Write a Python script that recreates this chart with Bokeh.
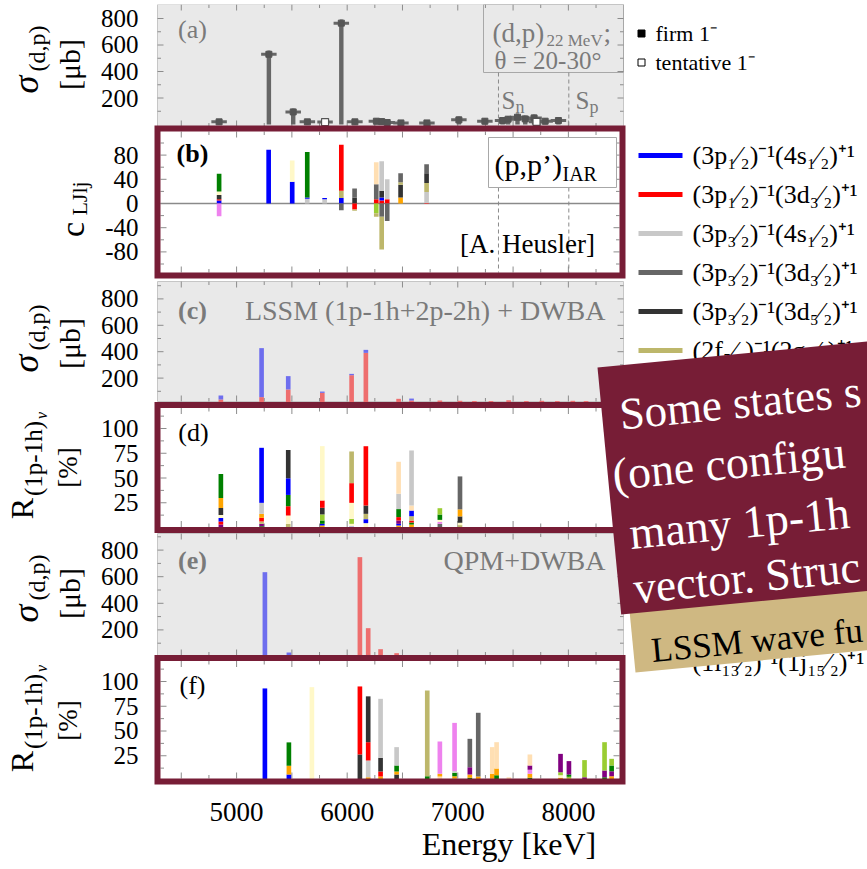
import math
from bokeh.plotting import figure
from bokeh.layouts import row
from bokeh.models import Range1d, FixedTicker, Label, ColumnDataSource
from bokeh.embed import file_html
from bokeh.resources import INLINE

FONT = "Liberation Serif"
MAROON = "#771d36"
TAN = "#cfb882"
PANEL_GRAY = "#e9e9e9"
TEXT_GRAY = "#7a7a7a"
TICK_GRAY = "#8c8c8c"

# ------------------------------------------------------------------ data
ENERGY_TICKS = [5000, 6000, 7000, 8000]
SN_KEV = 7368
SP_KEV = 8004

# (a) measured (d,p) cross sections [mub]
A_E = [4842, 5292, 5512, 5640, 5800, 5947, 6070, 6264, 6312, 6362, 6486, 6721,
       7010, 7245, 7405, 7455, 7540, 7610, 7690, 7712, 7790, 7910]
A_SIGMA = [20, 530, 95, 20, 18, 765, 20, 25, 22, 15, 12, 12,
           35, 25, 30, 40, 55, 42, 50, 20, 25, 30]
A_ERR = [22, 28, 25, 22, 22, 28, 22, 22, 22, 22, 22, 22,
         25, 22, 25, 25, 28, 25, 25, 22, 22, 25]
A_TENTATIVE = [False, False, False, False, True, False, False, False, False, False, False, False,
               False, False, False, False, False, False, False, True, False, False]

# configuration colours (index used in the stacks below)
CFG_COLORS = ["#0000ff", "#ff0000", "#c8c8c8", "#666666", "#333333", "#bdb76b",
              "#fff8c8", "#008000", "#ffa500", "#ee82ee", "#800080", "#9acd32",
              "#ffdfb3", "#00a0a0"]
LEGEND_ROWS = [0, 1, 2, 3, 4, 5, 13]
LEGEND_LABELS = ["(3p₁⁄₂)⁻¹(4s₁⁄₂)⁺¹", "(3p₁⁄₂)⁻¹(3d₃⁄₂)⁺¹", "(3p₃⁄₂)⁻¹(4s₁⁄₂)⁺¹",
                 "(3p₃⁄₂)⁻¹(3d₃⁄₂)⁺¹", "(3p₃⁄₂)⁻¹(3d₅⁄₂)⁺¹", "(2f₅⁄₂)⁻¹(2g₇⁄₂)⁺¹",
                 "(1i₁₃⁄₂)⁻¹(1j₁₅⁄₂)⁺¹"]

# (b) (p,p')IAR amplitudes c_LJlj, stacked (config, value)
B_E = [4842, 5290, 5503, 5639, 5796, 5947, 6067, 6263, 6312, 6362, 6483, 6718]
B_STACKS = [
    [(0, 5), (1, 2), (4, 7), (6, 6), (7, 29), (9, -21)],
    [(0, 89)],
    [(0, 36), (6, 35)],
    [(2, 8), (0, 2), (7, 75)],
    [(2, 7), (0, 2)],
    [(0, 9), (5, 12), (1, 76), (3, -11)],
    [(4, 10), (3, 15), (1, -10), (5, -2)],
    [(1, 7), (3, 25), (12, 36), (11, -16), (5, -6)],
    [(1, 5), (0, 5), (4, 11), (2, 49), (3, -22), (5, -54)],
    [(1, 7), (2, 33), (3, -29)],
    [(8, 10), (4, 21), (5, 4), (3, 15)],
    [(2, 19), (5, 15), (4, 16), (3, 15), (1, -1)],
]

# (c) LSSM + DWBA cross sections: l=2 part (red) and l=0 part (blue)
C_E = [4858, 5226, 5467, 5775, 6040, 6169, 6465, 6582, 6838, 7020, 7150, 7300,
       7460, 7620, 7760, 7900, 8040, 8160, 8330]
C_D = [38, 56, 114, 88, 222, 391, 43, 30, 30, 28, 26, 26, 32, 26, 28, 26, 28, 26, 0]
C_S = [30, 371, 101, 10, 10, 23, 0, 15, 0, 0, 0, 0, 0, 0, 0, 0, 0, 0, 28]

# (d) LSSM 1p-1h fractions [%]
D_E = [4858, 5226, 5467, 5775, 6040, 6169, 6465, 6582, 6838, 7020]
D_STACKS = [
    [(10, 3.0), (1, 3.0), (0, 3.7), (6, 3.0), (4, 7.1), (8, 10.1), (7, 24.2)],
    [(7, 1.3), (10, 2.4), (5, 2.4), (1, 3.7), (8, 4.0), (2, 11.1), (0, 55.6)],
    [(5, 3.7), (6, 8.4), (1, 9.4), (7, 11.4), (0, 16.8), (4, 28.6)],
    [(8, 2.0), (0, 1.7), (7, 3.4), (11, 6.1), (4, 6.7), (1, 7.4), (6, 54.9)],
    [(0, 1.0), (6, 2.7), (11, 5.0), (6, 16.2), (1, 19.9), (5, 32.0)],
    [(6, 4.4), (0, 4.0), (5, 5.4), (4, 8.4), (1, 59.9)],
    [(8, 2.0), (0, 1.7), (10, 3.4), (1, 3.4), (7, 8.1), (2, 15.5), (12, 32.3)],
    [(8, 3.0), (7, 2.0), (1, 2.0), (5, 4.4), (0, 5.7), (12, 5.1), (2, 55.6)],
    [(3, 3.7), (9, 2.0), (6, 2.0), (7, 5.4), (11, 6.4)],
    [(5, 2.4), (6, 2.4), (4, 6.4), (8, 7.1), (3, 33.3)],
]

# (e) QPM + DWBA cross sections
E_E = [5256, 5473, 6115, 6190, 6302, 6447]
E_D = [0, 0, 747, 213, 55, 25]
E_S = [634, 30, 0, 0, 0, 0]

# (f) QPM 1p-1h fractions [%]
F_E = [5256, 5473, 5681, 6115, 6190, 6302, 6447, 6724, 6838, 6971, 7109, 7185,
       7312, 7351, 7462, 7652, 7929, 8005, 8146, 8225, 8327, 8391, 8481]
F_STACKS = [
    [(0, 93)],
    [(0, 6), (8, 9), (7, 23.5)],
    [(6, 94.3)],
    [(4, 26.3), (1, 68.7)],
    [(8, 3.4), (2, 16.8), (1, 18.5), (4, 46.3)],
    [(8, 4), (1, 5.1), (4, 13.8), (2, 59.6)],
    [(2, 1), (4, 5.1), (8, 3), (7, 6.1), (2, 18.5)],
    [(7, 4.4), (5, 86.5)],
    [(12, 4), (8, 2.7), (9, 32.7)],
    [(5, 2), (8, 2.4), (7, 3.4), (2, 1.7), (9, 48.7)],
    [(7, 2.7), (8, 3.4), (10, 7.4), (3, 28.6)],
    [(8, 4), (3, 64.4)],
    [(9, 1.7), (8, 5), (12, 27)],
    [(9, 1.3), (7, 4), (8, 6.7), (12, 26.7)],
    [(12, 3.4)],
    [(7, 2.7), (8, 4), (9, 4.1), (10, 4.4), (12, 11.1)],
    [(8, 2.7), (6, 2.7), (11, 3), (10, 18.5)],
    [(8, 2), (11, 1.7), (7, 2.4), (10, 13.5)],
    [(10, 3.4), (11, 17.2)],
    [(7, 1.4)],
    [(7, 3.4), (10, 6.7), (11, 28.6)],
    [(8, 4.4), (10, 5), (7, 5.8), (11, 6.7)],
    [(11, 2)],
]

Y_TICK_LABELS = {"a": [200, 400, 600, 800], "b": [-80, -40, 0, 40, 80],
                 "c": [200, 400, 600, 800], "d": [25, 50, 75, 100],
                 "e": [200, 400, 600, 800], "f": [25, 50, 75, 100]}

# ------------------------------------------------------------------ layout
LEFT_W = 93                         # width of the column holding the y titles
FR_L, FR_R, FR_T, FR_B = 150, 867, 4, 785
PX_PER_KEV = 0.1106
E_157 = 4285.0                      # energy at canvas x = 157
E_LEFT = E_157 - (157 - FR_L) / PX_PER_KEV
E_RIGHT = E_157 + (FR_R - 157) / PX_PER_KEV

# zero position (canvas px) and px per unit of each panel
PANEL = {"a": (124, 0.1325), "b": (203, 0.605), "c": (404, 0.132),
         "d": (527, 0.99), "e": (656, 0.133), "f": (780, 0.99)}
GEOM = {"a": (157, 623, 4, 126), "b": (160, 619, 131, 272), "c": (157, 623, 281, 401),
        "d": (160, 619, 407.5, 526.5), "e": (157, 623, 533, 655), "f": (160, 619, 660.5, 778)}
MINOR_STEP = {"a": 100, "b": 20, "c": 100, "d": 12.5, "e": 100, "f": 12.5}


def ymap(k, v):
    y0, s = PANEL[k]
    return y0 - v * s


p = figure(width=867 - LEFT_W, height=869, output_backend="svg", toolbar_location=None,
           x_range=Range1d(E_LEFT, E_RIGHT), y_range=Range1d(FR_B, FR_T),
           min_border_left=FR_L - LEFT_W, min_border_right=0, min_border_top=FR_T,
           min_border_bottom=869 - FR_B)
p.extra_x_ranges = {"px": Range1d(FR_L, FR_R)}
p.extra_y_ranges = {k: Range1d((y0 - FR_B) / s, (y0 - FR_T) / s) for k, (y0, s) in PANEL.items()}
p.background_fill_color = "white"
p.border_fill_color = "white"
p.outline_line_color = None
p.xgrid.visible = False
p.ygrid.visible = False

# left axis: tick labels of every panel
tick_pos, overrides = [], {}
for k, vals in Y_TICK_LABELS.items():
    for v in vals:
        pos = int(round(ymap(k, v)))
        tick_pos.append(pos)
        overrides[pos] = str(v)
yax = p.yaxis[0]
yax.ticker = FixedTicker(ticks=tick_pos, minor_ticks=[])
yax.major_label_overrides = overrides
yax.axis_line_color = None
yax.major_tick_line_color = None
yax.minor_tick_line_color = None
yax.major_tick_out = 0
yax.major_tick_in = 0
yax.minor_tick_out = 0
yax.major_label_standoff = 12
yax.major_label_text_font = FONT
yax.major_label_text_font_size = "25px"
yax.major_label_text_color = "black"

xax = p.xaxis[0]
xax.ticker = FixedTicker(ticks=ENERGY_TICKS, minor_ticks=[])
xax.axis_line_color = None
xax.major_tick_line_color = None
xax.minor_tick_line_color = None
xax.major_tick_out = 0
xax.major_tick_in = 0
xax.minor_tick_out = 0
xax.major_label_standoff = 17
xax.major_label_text_font = FONT
xax.major_label_text_font_size = "27px"
xax.major_label_text_color = "black"
xax.axis_label = "Energy [keV]"
xax.axis_label_text_font = FONT
xax.axis_label_text_font_size = "32px"
xax.axis_label_text_font_style = "normal"
xax.axis_label_text_color = "black"
xax.axis_label_standoff = 2


def label(x, y, text, size, color="black", align="left", baseline="middle",
          angle=0.0, style="normal", level="annotation"):
    p.add_layout(Label(x=x, y=y, x_range_name="px", text=text, text_font=FONT,
                       text_font_size=f"{size}px", text_color=color, text_align=align,
                       text_baseline=baseline, angle=angle, text_font_style=style,
                       level=level))


# ------------------------------------------------------------------ panel backgrounds
for k in ["a", "c", "e"]:
    L, R, T, B = GEOM[k]
    p.quad(left=[L], right=[R], top=[T], bottom=[B], x_range_name="px",
           fill_color=PANEL_GRAY, line_color="#c6c6c6", line_width=1)
# (a) info box
p.quad(left=[483], right=[623], top=[4], bottom=[72], x_range_name="px",
       fill_color=PANEL_GRAY, line_color="#a8a8a8", line_width=1)

# ------------------------------------------------------------------ ticks
for k, (L, R, T, B) in GEOM.items():
    step = MINOR_STEP[k]
    lx0, lx1, ly = [], [], []
    n = int(-1200 / step)
    for i in range(n, -n + 1):
        v = i * step
        yy = ymap(k, v)
        if T + 2 < yy < B - 2:
            ln = 6 if v in Y_TICK_LABELS[k] else 3.5
            lx0 += [L, R - ln]
            lx1 += [L + ln, R]
            ly += [v, v]
    p.segment(x0=lx0, y0=ly, x1=lx1, y1=ly, x_range_name="px", y_range_name=k,
              line_color=TICK_GRAY, line_width=1)
    ex, ey0, ey1 = [], [], []
    for e in range(4500, 8500, 250):
        ln = 6 if e % 500 == 0 else 3.5
        ex += [e, e]
        ey0 += [T, B]
        ey1 += [T + ln, B - ln]
    p.segment(x0=ex, y0=ey0, x1=ex, y1=ey1, line_color=TICK_GRAY, line_width=1)

# separation energies
p.segment(x0=[SN_KEV, SP_KEV, SN_KEV, SP_KEV], x1=[SN_KEV, SP_KEV, SN_KEV, SP_KEV],
          y0=[72, 72, 187, 187], y1=[126, 126, 272, 272],
          line_color="#8a8a8a", line_width=1, line_dash="4 3")
# zero line of (b)
p.segment(x0=[160], x1=[619], y0=[0], y1=[0], x_range_name="px", y_range_name="b",
          line_color="#8a8a8a", line_width=1.5)


# ------------------------------------------------------------------ bars
def stacked(energies, stacks):
    xs, bots, tops, cols = [], [], [], []
    for e, segs in zip(energies, stacks):
        pos, neg = 0.0, 0.0
        for cfg, v in segs:
            if v >= 0:
                b, t = pos, pos + v
                pos = t
            else:
                b, t = neg + v, neg
                neg = b
            xs.append(e); bots.append(b); tops.append(t); cols.append(CFG_COLORS[cfg])
    return ColumnDataSource(dict(x=xs, bottom=bots, top=tops, color=cols))


def two_part(energies, dpart, spart):
    xs, bots, tops, cols = [], [], [], []
    for e, d, s in zip(energies, dpart, spart):
        if d > 0:
            xs.append(e); bots.append(0); tops.append(d); cols.append("#ee6e6e")
        if s > 0:
            xs.append(e); bots.append(d); tops.append(d + s); cols.append("#6e6eee")
    return ColumnDataSource(dict(x=xs, bottom=bots, top=tops, color=cols))


for k, src in [("b", stacked(B_E, B_STACKS)), ("c", two_part(C_E, C_D, C_S)),
               ("d", stacked(D_E, D_STACKS)), ("e", two_part(E_E, E_D, E_S)),
               ("f", stacked(F_E, F_STACKS))]:
    p.vbar(x="x", width=42, bottom="bottom", top="top", fill_color="color",
           line_color=None, source=src, y_range_name=k)

# (a) experimental bars with error crosses
p.vbar(x=A_E, width=40, bottom=0, top=A_SIGMA, fill_color="#666666", line_color=None,
       y_range_name="a")
p.segment(x0=A_E, x1=A_E, y0=[v - e for v, e in zip(A_SIGMA, A_ERR)],
          y1=[v + e for v, e in zip(A_SIGMA, A_ERR)], line_color="#666666",
          line_width=3, y_range_name="a")
p.segment(x0=[e - 70 for e in A_E], x1=[e + 70 for e in A_E], y0=A_SIGMA, y1=A_SIGMA,
          line_color="#666666", line_width=3, y_range_name="a")
firm_e = [e for e, t in zip(A_E, A_TENTATIVE) if not t]
firm_v = [v for v, t in zip(A_SIGMA, A_TENTATIVE) if not t]
tent_e = [e for e, t in zip(A_E, A_TENTATIVE) if t]
tent_v = [v for v, t in zip(A_SIGMA, A_TENTATIVE) if t]
p.scatter(firm_e, firm_v, marker="square", size=6, fill_color="#555555",
          line_color="#555555", y_range_name="a")
p.scatter(tent_e, tent_v, marker="square", size=7, fill_color="white",
          line_color="#555555", line_width=1.2, y_range_name="a")

# (b) reaction box
p.quad(left=[488], right=[616], top=[137], bottom=[187], x_range_name="px",
       fill_color="white", line_color="#a8a8a8", line_width=1)

# maroon frames of the (b), (d), (f) panels
p.quad(left=[157, 157, 157], right=[622, 622, 622], top=[128, 404.5, 657.5],
       bottom=[275, 529.5, 781], x_range_name="px", fill_color=None,
       line_color=MAROON, line_width=6, line_join="miter")

# ------------------------------------------------------------------ legends
p.scatter([641], [33], marker="square", size=7, fill_color="black", line_color="black",
          x_range_name="px")
p.scatter([641], [62], marker="square", size=7, fill_color="white", line_color="black",
          line_width=1, x_range_name="px")
label(655, 33, "firm 1⁻", 22)
label(655, 62, "tentative 1⁻", 22)

rows_y = [155 + 39 * r for r in LEGEND_ROWS]
p.segment(x0=[638] * len(rows_y), x1=[682] * len(rows_y), y0=rows_y, y1=rows_y,
          x_range_name="px", line_color=[CFG_COLORS[r] for r in LEGEND_ROWS], line_width=5)
for yy, txt in zip(rows_y, LEGEND_LABELS):
    label(692, yy, txt, 26)

# ------------------------------------------------------------------ panel texts
label(192, 29, "(a)", 26, TEXT_GRAY, align="center")
label(192, 153, "(b)", 26, "black", align="center", style="bold")
label(192, 310, "(c)", 26, TEXT_GRAY, align="center", style="bold")
label(193, 432, "(d)", 26, "black", align="center")
label(192, 560, "(e)", 26, TEXT_GRAY, align="center", style="bold")
label(192, 685, "(f)", 26, "black", align="center")

label(492, 32, "(d,p)", 27, TEXT_GRAY)
label(546, 40, "22 MeV", 17, TEXT_GRAY)
label(603, 32, ";", 27, TEXT_GRAY)
label(494, 60, "θ = 20-30°", 25, TEXT_GRAY)
label(501, 100, "S", 25, TEXT_GRAY)
label(515, 106, "n", 18, TEXT_GRAY)
label(575, 100, "S", 25, TEXT_GRAY)
label(589, 106, "p", 18, TEXT_GRAY)

label(494, 164, "(p,p’)", 30)
label(562, 173, "IAR", 20)
label(527, 243, "[A. Heusler]", 27, align="center")
label(605, 310, "LSSM (1p-1h+2p-2h) + DWBA", 28, TEXT_GRAY, align="right")
label(605, 560, "QPM+DWBA", 28, TEXT_GRAY, align="right")

# ------------------------------------------------------------------ overlay boxes
p.patch(x=[628, 880, 880, 635], y=[600, 576, 648.5, 672], x_range_name="px",
        fill_color=TAN, line_color=None, level="overlay")
p.patch(x=[597, 880, 880, 620.7], y=[367, 339.8, 589.1, 614], x_range_name="px",
        fill_color=MAROON, line_color=None, level="overlay")
ROT = 0.096
label(619, 414, "Some states s", 45, "white", baseline="alphabetic", angle=ROT, level="overlay")
label(612, 474, "(one configu", 46, "white", baseline="alphabetic", angle=ROT, level="overlay")
label(629, 533, "many 1p-1h", 46, "white", baseline="alphabetic", angle=ROT, level="overlay")
label(633, 588, "vector. Struc", 45, "white", baseline="alphabetic", angle=ROT, level="overlay")
label(651, 650, "LSSM wave fu", 35, "black", baseline="alphabetic", angle=ROT, level="overlay")

# ------------------------------------------------------------------ y-axis titles column
# same vertical borders and range as the main plot, so y is in canvas pixels
lf = figure(width=LEFT_W, height=869, output_backend="svg", toolbar_location=None,
            x_range=Range1d(0, LEFT_W), y_range=Range1d(FR_B, FR_T),
            x_axis_location=None, y_axis_location=None,
            min_border_left=0, min_border_right=0, min_border_top=FR_T,
            min_border_bottom=869 - FR_B)
lf.outline_line_color = None
lf.background_fill_color = "white"
lf.border_fill_color = "white"
lf.xgrid.visible = False
lf.ygrid.visible = False


def ltitle(x, y, text, size, style="normal"):
    lf.add_layout(Label(x=x, y=y, text=text, text_font=FONT, text_font_size=f"{size}px",
                        text_color="black", text_align="center", text_baseline="middle",
                        angle=math.pi / 2, text_font_style=style))


for top in [4, 283, 533]:
    ltitle(25, top + 80, "σ", 36, "italic")
    ltitle(36, top + 44, "(d,p)", 24)
    ltitle(69, top + 60, "[μb]", 30)
ltitle(72, 229, "c", 34)
ltitle(79, 198, "LJlj", 22)
for mid in [467, 720]:
    ltitle(21, mid + 41, "R", 32)
    ltitle(33, mid - 9, "(1p-1h)", 25)
    ltitle(41, mid - 52, "ν", 16, "italic")
    ltitle(67, mid, "[%]", 27)

layout = row(lf, p)
open("out.html", "w").write(file_html(layout, INLINE))
